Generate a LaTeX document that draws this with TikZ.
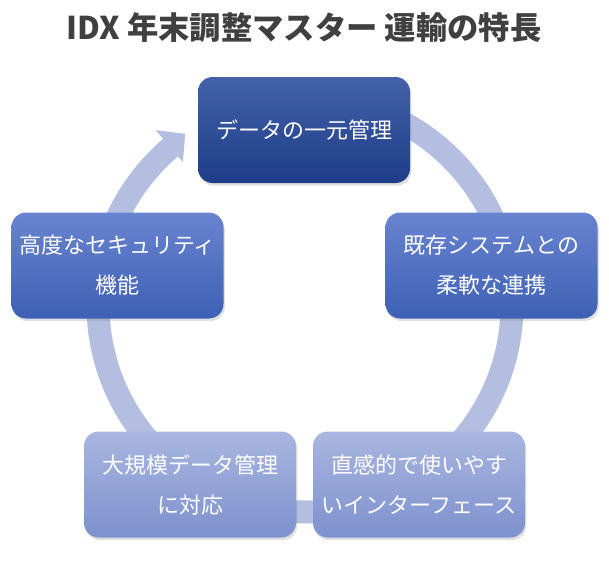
\documentclass[tikz,border=0pt]{standalone}
\usepackage{fontspec}
\newfontfamily\jpfont{Noto Sans CJK JP}
\usetikzlibrary{shadows}
\definecolor{ringblue}{RGB}{180,190,225}
\definecolor{titlegray}{RGB}{64,64,64}
\tikzset{
    stepbox/.style={draw=none, rounded corners=11pt, minimum width=159pt, minimum height=79.5pt,
        align=center, text=white, font=\jpfont\fontsize{16.5}{30}\selectfont,
        drop shadow={opacity=0.25, shadow xshift=1pt, shadow yshift=-2pt}},
    darkbox/.style={stepbox, top color={rgb,255:red,66;green,98;blue,170}, bottom color={rgb,255:red,30;green,60;blue,135}},
    midbox/.style={stepbox, top color={rgb,255:red,105;green,132;blue,208}, bottom color={rgb,255:red,62;green,96;blue,180}},
    lightbox/.style={stepbox, top color={rgb,255:red,170;green,182;blue,225}, bottom color={rgb,255:red,125;green,145;blue,205}},
    ring/.style={draw=ringblue, line width=17.25pt},
    heading/.style={text=titlegray, font=\jpfont\bfseries\fontsize{23.5}{28}\selectfont},
}
\begin{document}
\begin{tikzpicture}[x=0.75pt, y=0.75pt]
	\useasboundingbox (0,0) rectangle (609,562);
	\node[heading] (title) at (304,534) {IDX 年末調整マスター 運輸の特長};
	% ring with arrow head
	\coordinate (c) at (305,257);
	\draw[ring] (c) ++(90:207) arc[start angle=90, end angle=-230, radius=207];
	\fill[ringblue, shift={(c)}] (125:209) -- (130.5:230) -- (130.5:188) -- cycle;
	% steps
	\node[darkbox] (data) at (304,432) {データの一元管理};
	\node[midbox] (link) at (491.5,296.5) {既存システムとの\\柔軟な連携};
	\node[lightbox] (ui) at (419,77.5) {直感的で使いやす\\いインターフェース};
	\node[lightbox] (scale) at (190,77.5) {大規模データ管理\\に対応};
	\node[midbox] (secure) at (117.5,296.5) {高度なセキュリティ\\機能};
\end{tikzpicture}
\end{document}
